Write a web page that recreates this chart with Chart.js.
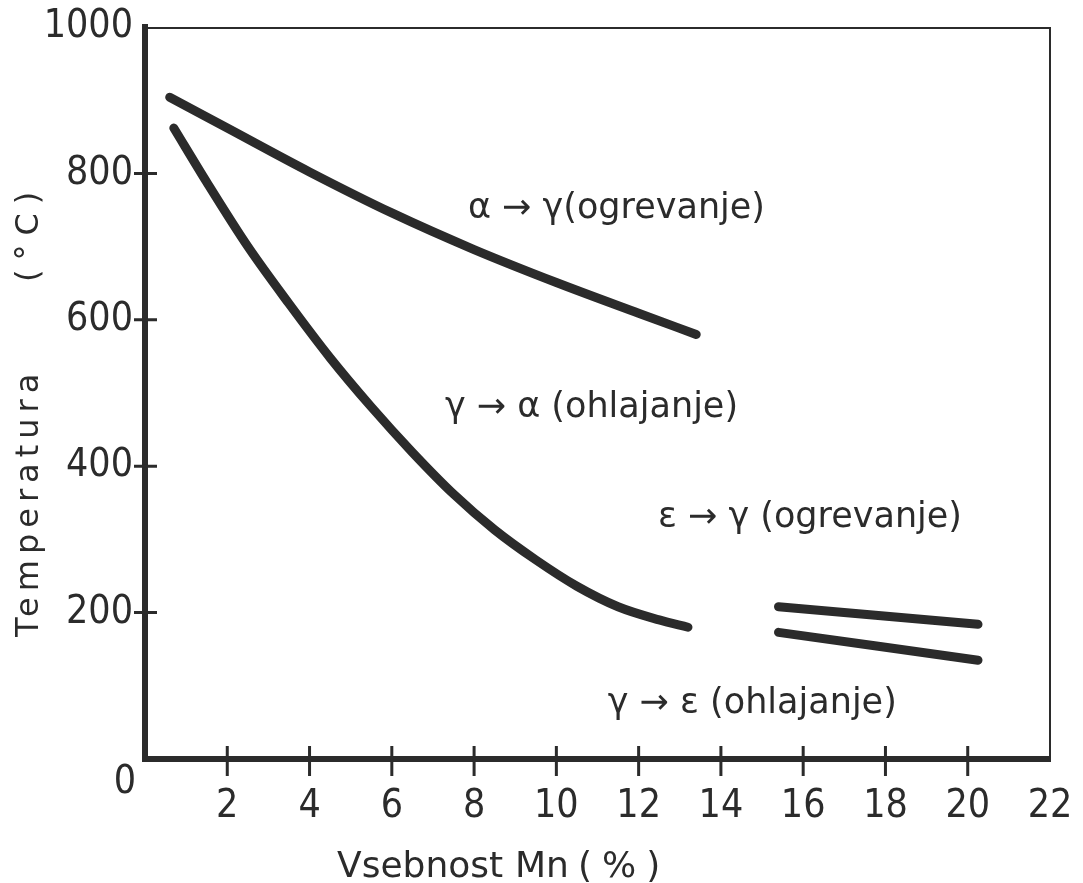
<!DOCTYPE html>
<html>
<head>
<meta charset="utf-8">
<title>Temperatura premen - vsebnost Mn</title>
<script src="https://cdn.jsdelivr.net/npm/chart.js@4.4.1/dist/chart.umd.min.js"></script>
<style>
  html, body { margin: 0; padding: 0; background: #fff; }
  #wrap { width: 1083px; height: 883px; }
</style>
</head>
<body>
<div id="wrap"><canvas id="chart" width="1083" height="883"></canvas></div>
<script>
// ============================================================
// Fe-Mn transformation temperatures vs. Mn content
// ============================================================

// ── Data ─────────────────────────────────────────────────────
const xTicks = [0, 2, 4, 6, 8, 10, 12, 14, 16, 18, 20, 22];
const yTicks = [0, 200, 400, 600, 800, 1000];

// α → γ (ogrevanje)
const heatAlphaGammaMn = [0.6, 2, 4, 6, 8, 10, 12, 13.4];
const heatAlphaGammaT  = [904, 862, 802, 746, 696, 651, 609, 580];

// γ → α (ohlajanje)
const coolGammaAlphaMn = [0.7, 1.5, 2.5, 3.5, 4.5, 5.5, 6.5, 7.5, 8.5, 9.5, 10.5, 11.5, 12.5, 13.2];
const coolGammaAlphaT  = [862, 788, 700, 622, 548, 481, 419, 362, 313, 272, 236, 208, 190, 180];

// ε → γ (ogrevanje)
const heatEpsGammaMn = [15.4, 20.25];
const heatEpsGammaT  = [208, 184];

// γ → ε (ohlajanje)
const coolGammaEpsMn = [15.4, 20.25];
const coolGammaEpsT  = [173, 135];

const curveLabels = ['α → γ(ogrevanje)', 'γ → α (ohlajanje)', 'ε → γ (ogrevanje)', 'γ → ε (ohlajanje)'];
const xTitle = ['Vsebnost', 'Mn', '(%)'];
const yTitle = ['Temperatura', '(°C)'];

// ── Styling / placement ──────────────────────────────────────
const ink = '#2b2b2b';
const tickFamily = "'Liberation Sans Narrow', 'DejaVu Sans Condensed', 'Liberation Sans', sans-serif";
const textFamily = "'DejaVu Sans', sans-serif";

// label anchors in data units (left edge, baseline)
const labelAnchors = [
    { x: 7.85, y: 739 },
    { x: 7.29, y: 467 },
    { x: 12.47, y: 317 },
    { x: 11.25, y: 63 }
];

const toPoints = (xs, ys) => xs.map((v, i) => ({ x: v, y: ys[i] }));

function curve(xs, ys) {
    return {
        data: toPoints(xs, ys),
        showLine: true,
        borderColor: ink,
        borderWidth: 9,
        borderCapStyle: 'round',
        borderJoinStyle: 'round',
        pointRadius: 0,
        cubicInterpolationMode: 'monotone',
        fill: false
    };
}

// ── Frame, crossing ticks, titles and curve labels ───────────
const diagramText = {
    id: 'diagramText',
    afterDraw(chart) {
        const { ctx, chartArea: a, scales: { x, y } } = chart;
        ctx.save();
        ctx.strokeStyle = ink;
        ctx.fillStyle = ink;

        // thin top + right frame
        ctx.lineWidth = 2;
        ctx.beginPath();
        ctx.moveTo(a.left, a.top + 1);
        ctx.lineTo(a.right, a.top + 1);
        ctx.lineTo(a.right, a.bottom);
        ctx.stroke();

        // ticks that cross the axes
        ctx.lineWidth = 3;
        ctx.beginPath();
        y.ticks.forEach(t => {
            if (t.value === y.min || t.value === y.max) return;
            const py = y.getPixelForValue(t.value);
            ctx.moveTo(a.left - 11, py);
            ctx.lineTo(a.left + 12, py);
        });
        x.ticks.forEach(t => {
            if (t.value === x.min || t.value === x.max) return;
            const px = x.getPixelForValue(t.value);
            ctx.moveTo(px, a.bottom - 13);
            ctx.lineTo(px, a.bottom + 17);
        });
        ctx.stroke();

        // the lone "0" in the corner
        ctx.font = `39px ${tickFamily}`;
        ctx.textAlign = 'center';
        ctx.textBaseline = 'middle';
        ctx.fillText('0', x.getPixelForValue(0) - 20, y.getPixelForValue(0) + 24);

        // curve labels
        ctx.font = `35px ${textFamily}`;
        ctx.textAlign = 'left';
        ctx.textBaseline = 'alphabetic';
        curveLabels.forEach((txt, i) => {
            const p = labelAnchors[i];
            ctx.fillText(txt, x.getPixelForValue(p.x), y.getPixelForValue(p.y));
        });

        // x title
        ctx.font = `36px ${textFamily}`;
        ctx.fillText(xTitle[0], 337, 877);
        ctx.fillText(xTitle[1], 515, 877);
        ctx.letterSpacing = '10px';
        ctx.fillText(xTitle[2], 578, 877);

        // y title (rotated)
        ctx.translate(38, 637);
        ctx.rotate(-Math.PI / 2);
        ctx.font = `32px ${textFamily}`;
        ctx.letterSpacing = '6px';
        ctx.fillText(yTitle[0], 0, 0);
        ctx.letterSpacing = '9px';
        ctx.fillText(yTitle[1], 355, 0);
        ctx.restore();
    }
};

// ── Chart ────────────────────────────────────────────────────
new Chart(document.getElementById('chart'), {
    type: 'scatter',
    data: {
        datasets: [
            curve(heatAlphaGammaMn, heatAlphaGammaT),
            curve(coolGammaAlphaMn, coolGammaAlphaT),
            curve(heatEpsGammaMn, heatEpsGammaT),
            curve(coolGammaEpsMn, coolGammaEpsT)
        ]
    },
    options: {
        responsive: false,
        animation: false,
        layout: { padding: { left: 0, top: 27, right: 33, bottom: 0 } },
        plugins: { legend: { display: false }, tooltip: { enabled: false } },
        scales: {
            x: {
                type: 'linear',
                min: 0, max: 22,
                afterBuildTicks: s => { s.ticks = xTicks.map(v => ({ value: v })); },
                afterFit: s => {
                    s.height = 124;
                    s.paddingLeft = 0; s.paddingRight = 0;
                },
                grid: { display: false, drawTicks: false },
                border: { display: true, color: ink, width: 6 },
                ticks: {
                    autoSkip: false, maxRotation: 0, padding: 24, color: ink,
                    font: { family: tickFamily, size: 39 },
                    callback: v => (v === 0 ? '' : v)
                }
            },
            y: {
                type: 'linear',
                min: 0, max: 1000,
                afterBuildTicks: s => { s.ticks = yTicks.map(v => ({ value: v })); },
                afterFit: s => {
                    s.width = 145;
                    s.paddingTop = 0; s.paddingBottom = 0;
                },
                grid: { display: false, drawTicks: false },
                border: { display: true, color: ink, width: 6 },
                ticks: {
                    padding: 12, color: ink,
                    font: { family: tickFamily, size: 39 },
                    callback: v => (v === 0 ? '' : v)
                }
            }
        }
    },
    plugins: [diagramText]
});
</script>
</body>
</html>
